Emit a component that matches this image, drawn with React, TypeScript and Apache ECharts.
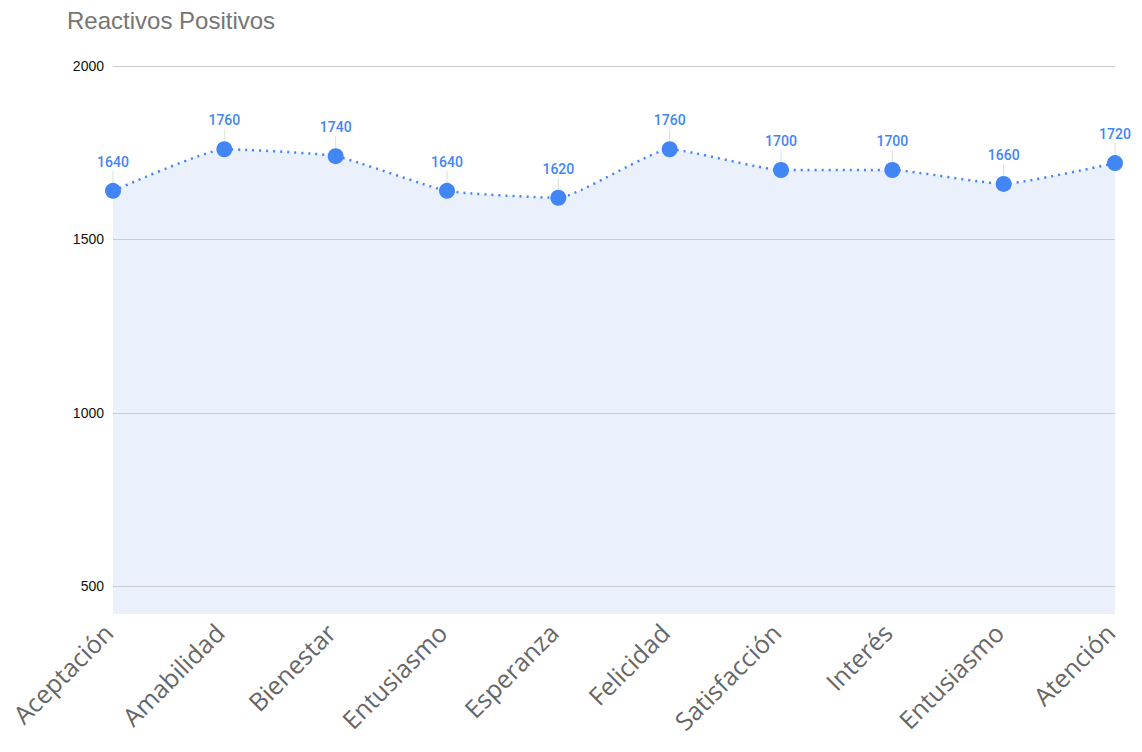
import React, { useEffect, useRef } from "react";
import * as echarts from "echarts";

const categories = [
  "Aceptación",
  "Amabilidad",
  "Bienestar",
  "Entusiasmo",
  "Esperanza",
  "Felicidad",
  "Satisfacción",
  "Interés",
  "Entusiasmo",
  "Atención",
];
const values = [1640, 1760, 1740, 1640, 1620, 1760, 1700, 1700, 1660, 1720];
const yTicks = [500, 1000, 1500, 2000];

const BLUE = "#4285f4";

export default function App() {
  const ref = useRef<HTMLDivElement>(null);

  useEffect(() => {
    if (!ref.current) return;
    const chart = echarts.init(ref.current, undefined, { renderer: "svg" });
    chart.setOption({
      animation: false,
      title: {
        text: "Reactivos Positivos",
        left: 67,
        top: 8,
        padding: 0,
        textStyle: {
          fontFamily: "Liberation Sans, Arial, sans-serif",
          fontSize: 24,
          fontWeight: "normal",
          color: "#757575",
        },
      },
      grid: {
        left: 113,
        right: 27,
        top: 66,
        bottom: 138,
        outerBoundsMode: "none",
        containLabel: false,
      },
      xAxis: {
        type: "category",
        data: categories,
        boundaryGap: false,
        axisLine: { show: false },
        axisTick: { show: false },
        axisLabel: {
          rotate: 45,
          interval: 0,
          margin: 9,
          padding: [0, 7, 0, 0],
          lineHeight: 25,
          fontFamily: "Open Sans, sans-serif",
          fontSize: 25,
          color: "#666666",
        },
      },
      yAxis: {
        type: "value",
        min: 420,
        max: 2000,
        axisLine: { show: false },
        axisTick: { show: false, customValues: yTicks },
        axisLabel: {
          customValues: yTicks,
          margin: 9,
          formatter: (v: number) => String(v),
          fontFamily: "Liberation Sans, Arial, sans-serif",
          fontSize: 14,
          color: "#111111",
        },
        splitLine: { show: false },
      },
      series: [
        {
          type: "line",
          data: values,
          smooth: 0.15,
          symbol: "circle",
          symbolSize: 16,
          itemStyle: { color: BLUE },
          lineStyle: { color: BLUE, width: 2.5, type: [2, 5] },
          areaStyle: { color: "#eaf1fd", opacity: 1 },
          label: {
            show: true,
            position: "top",
            distance: 14,
            fontFamily: "Roboto, sans-serif",
            fontSize: 14,
            fontWeight: 500,
            color: BLUE,
          },
          // horizontal gridlines at the labelled values, drawn over the fill
          markLine: {
            silent: true,
            symbol: "none",
            label: { show: false },
            lineStyle: { color: "#cccccc", width: 1, type: "solid" },
            data: yTicks.map((v) => ({ yAxis: v })),
          },
          z: 3,
        },
        {
          // thin leader lines joining each value label to its point
          type: "custom",
          data: values.map((v, i) => [i, v]),
          z: 2,
          silent: true,
          renderItem: (params: any, api: any) => {
            const p = api.coord([api.value(0), api.value(1)]);
            return {
              type: "line",
              shape: { x1: p[0], y1: p[1] - 8, x2: p[0], y2: p[1] - 20 },
              style: { stroke: "#dddddd", lineWidth: 1 },
            };
          },
          encode: { x: 0, y: 1 },
        },
      ],
    });
    return () => chart.dispose();
  }, []);

  return (
    <div
      ref={ref}
      style={{ position: "absolute", left: 0, top: 0, width: 1142, height: 752 }}
    />
  );
}
